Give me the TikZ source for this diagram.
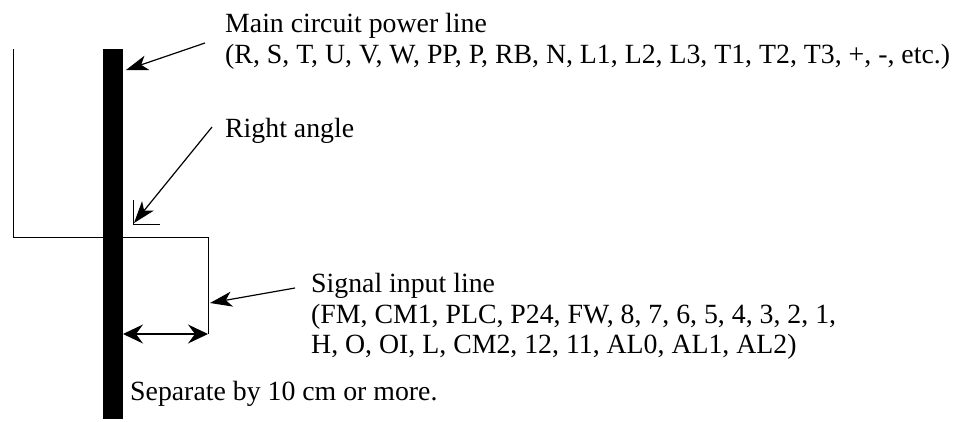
\documentclass[tikz,border=0pt]{standalone}
\usepackage{fontspec}
\setmainfont{Liberation Serif}
\usetikzlibrary{arrows.meta}
\begin{document}
\begin{tikzpicture}[x=1pt,y=-1pt,
  thin line/.style={line width=1pt,black},
  lbl/.style={anchor=base west,inner sep=0pt,font=\fontsize{27.8}{31}\selectfont},
  pointer/.style={line width=1.2pt,-{Stealth[length=22pt,width=15pt,inset=6pt]}},
  dimarrow/.style={line width=1.2pt,{Stealth[length=20pt,width=19pt,inset=7pt]}-{Stealth[length=20pt,width=19pt,inset=7pt]}}]
\useasboundingbox (0,0) rectangle (958,421);
% main circuit bar
\node[fill=black,draw=none,inner sep=0pt,minimum width=20pt,minimum height=370pt] (bar) at (113,234) {};
% signal line
\coordinate (s0) at (13,49);
\coordinate (s1) at (13,237);
\coordinate (s2) at (208,237);
\coordinate (s3) at (208,334);
\draw[thin line] (s0) -- (s1) -- (s2) -- (s3);
% right angle mark
\coordinate (ra0) at (133,200);
\coordinate (ra1) at (133,224);
\coordinate (ra2) at (160,224);
\draw[thin line] (ra0) -- (ra1) -- (ra2);
% dimension arrow
\coordinate (d0) at (123,334);
\draw[dimarrow] (d0) -- (s3);
% labels
\node[lbl] (main1) at (225,32) {Main circuit power line};
\node[lbl] (main2) at (225,63) {(R, S, T, U, V, W, PP, P, RB, N, L1, L2, L3, T1, T2, T3, +, -, etc.)};
\node[lbl] (right) at (225,137) {Right angle};
\node[lbl] (sig1) at (311,292) {Signal input line};
\node[lbl] (sig2) at (311,323) {(FM, CM1, PLC, P24, FW, 8, 7, 6, 5, 4, 3, 2, 1,};
\node[lbl] (sig3) at (311,353) {H, O, OI, L, CM2, 12, 11, AL0, AL1, AL2)};
\node[lbl] (sep) at (130,400) {Separate by 10 cm or more.};
% pointers
\coordinate (pm0) at (205,43);
\coordinate (pm1) at (126,70);
\draw[pointer] (pm0) -- (pm1);
\coordinate (pr0) at (212,127);
\coordinate (pr1) at (134,223);
\draw[pointer] (pr0) -- (pr1);
\coordinate (ps0) at (295,288);
\coordinate (ps1) at (210,303);
\draw[pointer] (ps0) -- (ps1);
\end{tikzpicture}
\end{document}
